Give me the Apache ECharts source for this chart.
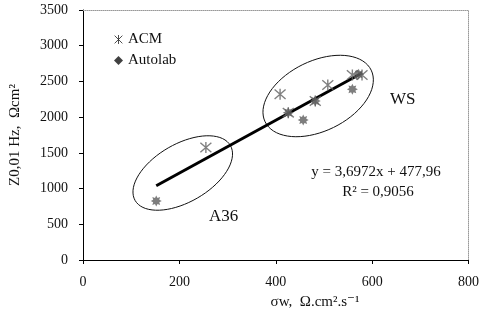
<!DOCTYPE html>
<html>
<head>
<meta charset="utf-8">
<script src="https://cdn.jsdelivr.net/npm/echarts@6/dist/echarts.min.js"></script>
<style>
html, body { margin: 0; padding: 0; background: #fff; }
#main { width: 482px; height: 314px; }
</style>
</head>
<body>
<div id="main"></div>
<script>
// values
var acmPoints = [[255, 1575], [409, 2320], [426, 2063], [482, 2226], [508, 2450], [559, 2590], [579, 2590]];
var autolabPoints = [[152, 826], [426, 2063], [457, 1960], [482, 2226], [559, 2390], [572, 2600]];
var trendPoints = [[152, 1040], [579, 2618]];
var groupCenters = [['A36', 207, 1218], ['WS', 488, 2296]];
var xTicks = [0, 200, 400, 600, 800];
var yTicks = [0, 500, 1000, 1500, 2000, 2500, 3000, 3500];

var serif = '"Liberation Serif", "DejaVu Serif", serif';
// semi-axes (px) and tilt (deg) of the hand-drawn group outlines
var ellipseSize = { A36: [55, 29, 30], WS: [59, 35, 26] };

var starPath = 'path://M0,-5L0,5M-4.3,-4.3L4.3,4.3M-4.3,4.3L4.3,-4.3';
var blobPath = 'path://M5,0L2.77,1.15L3.54,3.54L1.15,2.77L0,5L-1.15,2.77L-3.54,3.54L-2.77,1.15L-5,0L-2.77,-1.15L-3.54,-3.54L-1.15,-2.77L0,-5L1.15,-2.77L3.54,-3.54L2.77,-1.15Z';

function renderEllipse(params, api) {
    var name = groupCenters[params.dataIndex][0];
    var c = api.coord([api.value(1), api.value(2)]);
    var s = ellipseSize[name];
    var a = s[0], b = s[1], th = s[2] * Math.PI / 180;
    var pts = [];
    for (var i = 0; i < 72; i++) {
        var t = i / 72 * Math.PI * 2;
        var x = a * Math.cos(t), y = b * Math.sin(t);
        pts.push([c[0] + x * Math.cos(th) + y * Math.sin(th), c[1] - x * Math.sin(th) + y * Math.cos(th)]);
    }
    return {
        type: 'polygon',
        shape: { points: pts },
        style: { fill: 'none', stroke: '#111', lineWidth: 1 },
        silent: true
    };
}

var chart = echarts.init(document.getElementById('main'));
var option = {
    animation: false,
    grid: { left: 82, right: 9, top: 10, bottom: 54 },
    legend: {
        orient: 'vertical', left: 109, top: 27, itemGap: 6,
        itemWidth: 9, itemHeight: 9,
        textStyle: { fontFamily: serif, fontSize: 15, color: '#111' },
        data: [
            { name: 'ACM', icon: starPath, itemStyle: { color: 'transparent', borderColor: '#222', borderWidth: 1 } },
            { name: 'Autolab', icon: 'diamond', itemStyle: { color: '#111', borderWidth: 0 } }
        ]
    },
    xAxis: [{
        type: 'value', min: xTicks[0], max: xTicks[xTicks.length - 1], interval: 200,
        axisLine: { lineStyle: { color: '#000', width: 1 } },
        axisTick: { show: true, inside: false, length: 4, lineStyle: { color: '#000' } },
        axisLabel: { fontFamily: serif, fontSize: 14, color: '#111', margin: 15 },
        splitLine: { show: false }
    }, {
        type: 'value', position: 'top', min: 0, max: 800,
        axisLine: { show: true, onZero: false, lineStyle: { color: '#999', type: 'dotted' } },
        axisTick: { show: false }, axisLabel: { show: false }, splitLine: { show: false }
    }],
    yAxis: [{
        type: 'value', min: yTicks[0], max: yTicks[yTicks.length - 1], interval: 500,
        name: 'Z0,01 Hz,  Ωcm²', nameLocation: 'middle', nameGap: 60,
        nameTextStyle: { fontFamily: serif, fontSize: 15, color: '#111' },
        axisLine: { show: true, lineStyle: { color: '#000', width: 1 } },
        axisTick: { show: true, inside: false, length: 4, lineStyle: { color: '#000' } },
        axisLabel: { fontFamily: serif, fontSize: 14, color: '#111', margin: 15, formatter: function (v) { return String(v); } },
        splitLine: { show: false }
    }, {
        type: 'value', position: 'right', min: 0, max: 3500,
        axisLine: { show: true, onZero: false, lineStyle: { color: '#999', type: 'dotted' } },
        axisTick: { show: false }, axisLabel: { show: false }, splitLine: { show: false }
    }],
    series: [{
        name: 'trend', type: 'line', data: trendPoints, symbol: 'none',
        lineStyle: { color: '#000', width: 3 }, z: 3, silent: true
    }, {
        name: 'ACM', type: 'scatter', data: acmPoints, symbol: starPath, symbolSize: 11,
        itemStyle: { color: 'transparent', borderColor: '#606060', borderWidth: 1.4 }, z: 4
    }, {
        name: 'Autolab', type: 'scatter', data: autolabPoints, symbol: blobPath, symbolSize: 11,
        itemStyle: { color: '#5e5e5e' }, z: 4
    }, {
        type: 'custom', data: groupCenters.map(function (g) { return [g[0], g[1], g[2]]; }),
        encode: { x: 1, y: 2 }, renderItem: renderEllipse, z: 2, silent: true
    }],
    graphic: [
        { type: 'text', left: 390, top: 91, style: { text: 'WS', font: '17px ' + serif, fill: '#111' } },
        { type: 'text', left: 209, top: 208, style: { text: 'A36', font: '17px ' + serif, fill: '#111' } },
        { type: 'text', x: 376, y: 172, style: { text: 'y = 3,6972x + 477,96', font: '15px ' + serif, fill: '#111', align: 'center', verticalAlign: 'middle' } },
        { type: 'text', x: 378, y: 192, style: { text: 'R² = 0,9056', font: '15px ' + serif, fill: '#111', align: 'center', verticalAlign: 'middle' } },
        { type: 'text', x: 315, y: 302, style: { text: 'σw,  Ω.cm².s⁻¹', font: '15px ' + serif, fill: '#111', align: 'center', verticalAlign: 'middle' } }
    ]
};
chart.setOption(option);
</script>
</body>
</html>
